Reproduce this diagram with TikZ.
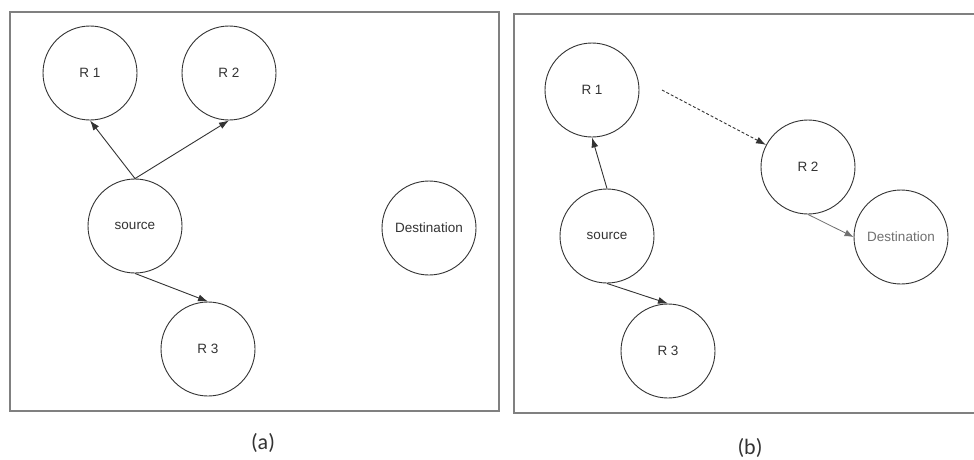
\documentclass[tikz,border=0pt]{standalone}
\usepackage{fontspec}
\setmainfont{Liberation Sans}
\newfontfamily\capfont{Carlito}
\usetikzlibrary{arrows.meta}
\definecolor{ink}{HTML}{333333}
\definecolor{framegray}{HTML}{808080}
\definecolor{lightink}{HTML}{707070}
\begin{document}
\begin{tikzpicture}[x=1pt,y=-1pt,
  router/.style={circle,draw=ink,line width=0.9pt,minimum size=94pt,inner sep=0pt,
    text=ink,font=\fontsize{13.5}{16}\selectfont},
  panel/.style={draw=framegray,line width=1.1pt},
  link/.style={draw=ink,line width=0.9pt,-{Latex[length=10pt,width=7pt]}},
  weaklink/.style={draw=lightink,line width=0.8pt,-{Latex[length=9pt,width=7pt]}},
  caption/.style={text=ink,font=\capfont\fontsize{22}{26}\selectfont}]
\useasboundingbox[fill=white] (0,0) rectangle (974,459);
% panels
\draw[panel] (10,12) rectangle (499,411);
\draw[panel] (514,14) rectangle (980,413);
% (a)
\node[router] (aR1) at (90,73) {R 1};
\node[router] (aR2) at (229,73) {R 2};
\node[router] (aS) at (135,226) {source};
\node[router] (aD) at (429,228) {Destination};
\node[router] (aR3) at (208,349) {R 3};
\draw[link] (aS.north) -- (aR1.south);
\draw[link] (aS.north) -- (aR2.south);
\draw[link] (aS.south) -- (aR3.north);
\node[caption] (capA) at (263,443) {(a)};
% (b)
\node[router] (bR1) at (592,90) {R 1};
\node[router] (bR2) at (808,167) {R 2};
\node[router] (bS) at (607,236) {source};
\node[router,text=lightink] (bD) at (901,237) {Destination};
\node[router] (bR3) at (668,351) {R 3};
\coordinate (dstart) at (662,90);
\draw[link] (bS.north) -- (bR1.south);
\draw[link] (bS.south) -- (bR3.north);
\draw[link,dash pattern=on 3pt off 2pt] (dstart) -- (bR2);
\draw[weaklink] (bR2.south) -- (bD.west);
\node[caption] (capB) at (750,448) {(b)};
\end{tikzpicture}
\end{document}
